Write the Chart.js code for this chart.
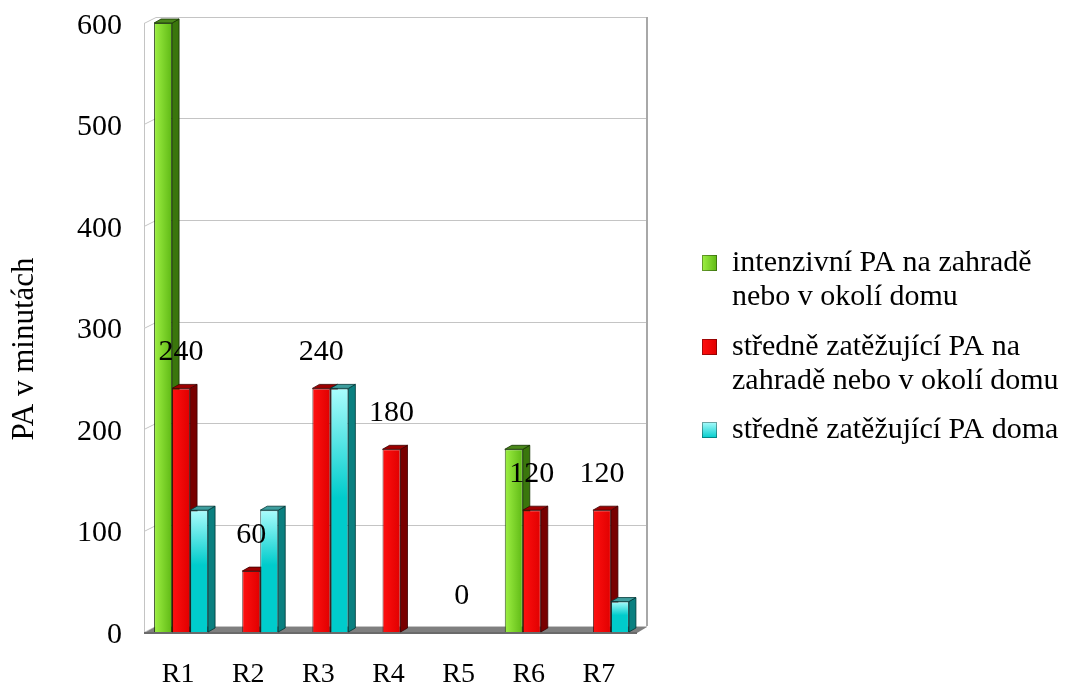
<!DOCTYPE html>
<html>
<head>
<meta charset="utf-8">
<script src="https://cdn.jsdelivr.net/npm/chart.js@4/dist/chart.umd.min.js"></script>
<style>
  html, body { margin: 0; padding: 0; background: #ffffff; }
  #wrap { width: 1066px; height: 688px; }
</style>
</head>
<body>
<div id="wrap"><canvas id="c" width="1066" height="688"></canvas></div>
<script>
// ---- data ----
const categories = ['R1', 'R2', 'R3', 'R4', 'R5', 'R6', 'R7'];
const intenzivniZahrada = [600, 0, 0, 0, 0, 180, 0];
const stredneZahrada = [240, 60, 240, 180, 0, 120, 120];
const stredneDoma = [120, 120, 240, 0, 0, 0, 30];
const seriesLabels = [
  ['intenzivní PA na zahradě', 'nebo v okolí domu'],
  ['středně zatěžující PA na', 'zahradě nebo v okolí domu'],
  ['středně zatěžující PA doma']
];
const yTickValues = [0, 100, 200, 300, 400, 500, 600];
const yTitle = 'PA v minutách';

// ---- styling ----
const FONT = "'Liberation Serif', 'Times New Roman', serif";
const CAT_PCT = 0.77;
const BAR_DX = 7, BAR_DY = -4;     // bar depth
const WALL_DX = 10, WALL_DY = -6;  // back wall offset
const palette = [
  { front: ['#9ef043', '#5fb915'], side: '#3a760c', top: '#4a881b', edge: 'rgba(20,50,0,0.8)' },
  { front: ['#ff1010', '#e00000'], side: '#780000', top: '#9c0000', edge: 'rgba(60,0,0,0.8)' },
  { front: ['#aafcfc', '#00cccc'], vertical: true, side: '#0a8080', top: '#3e9e9e', edge: 'rgba(0,55,55,0.8)' }
];

function frontGradient(c, ds, L, R, top, bot) {
  const pal = palette[ds];
  if (![L, R, top, bot].every(Number.isFinite)) return pal.front[1];
  let g;
  if (pal.vertical) g = c.createLinearGradient(0, top, 0, top + Math.max(1, (bot - top) * 0.45));
  else g = c.createLinearGradient(L, 0, Math.max(L + 1, R), 0);
  g.addColorStop(0, pal.front[0]);
  g.addColorStop(1, pal.front[1]);
  return g;
}

// per-bar front colour (scriptable, so every bar keeps its own options)
function frontFill(ctx) {
  const ds = ctx.datasetIndex;
  const chart = ctx.chart;
  const xs = chart.scales && chart.scales.x, ys = chart.scales && chart.scales.y;
  if (ctx.type !== 'data' || !xs || !ys) return palette[ds].front[1];
  const cat = (xs.right - xs.left) / categories.length;
  const bw = cat * CAT_PCT / 3;
  const L = xs.getPixelForValue(ctx.dataIndex) - 1.5 * bw + ds * bw;
  return frontGradient(chart.ctx, ds, L, L + bw, ys.getPixelForValue(ctx.raw), ys.getPixelForValue(0));
}

function poly(c, pts, fill, stroke) {
  c.beginPath();
  c.moveTo(pts[0][0], pts[0][1]);
  for (let i = 1; i < pts.length; i++) c.lineTo(pts[i][0], pts[i][1]);
  c.closePath();
  if (fill) { c.fillStyle = fill; c.fill(); }
  if (stroke) { c.strokeStyle = stroke; c.lineWidth = 1; c.stroke(); }
}

// walls, floor and the depth faces of each bar
const depthPlugin = {
  id: 'depth3d',
  beforeDatasetsDraw(chart) {
    const c = chart.ctx;
    const ys = chart.scales.y;
    const a = chart.chartArea;
    const fx = a.left - 2;
    const bx = a.left + WALL_DX, rx = a.right + WALL_DX;
    const yTop = ys.getPixelForValue(600), yBot = ys.getPixelForValue(0);
    c.save();
    // grid lines on the side and back walls
    c.strokeStyle = '#c4c4c4';
    c.lineWidth = 1;
    yTickValues.forEach(v => {
      const y = Math.round(ys.getPixelForValue(v)) + 0.5;
      c.beginPath();
      c.moveTo(fx, y);
      c.lineTo(bx, y + WALL_DY);
      c.lineTo(rx, y + WALL_DY);
      c.stroke();
    });
    // side wall front edge
    c.beginPath();
    c.moveTo(fx + 0.5, yTop);
    c.lineTo(fx + 0.5, yBot);
    c.stroke();
    // back wall right edge
    c.strokeStyle = '#a8a8a8';
    c.lineWidth = 2;
    c.beginPath();
    c.moveTo(rx, yTop + WALL_DY);
    c.lineTo(rx, yBot + WALL_DY);
    c.stroke();
    // floor
    poly(c, [[fx, yBot + 1], [a.right, yBot + 1], [rx, yBot + WALL_DY + 1], [bx - 1, yBot + WALL_DY + 1]], '#7f7f7f', null);
    c.fillStyle = '#6a6a6a';
    c.fillRect(fx, yBot, a.right - fx, 2);

    // bar sides, then bar tops; front faces get their gradient here
    const metas = chart.data.datasets.map((d, i) => chart.getDatasetMeta(i));
    const pass = (which) => {
      metas.forEach((meta, ds) => {
        meta.data.forEach((el, i) => {
          const raw = chart.data.datasets[ds].data[i];
          const p = el.getProps(['x', 'y', 'base', 'width'], true);
          const L = p.x - p.width / 2, R = p.x + p.width / 2;
          const pal = palette[ds];
          if (which === 'front') {
            el.options = Object.assign({}, el.options, { backgroundColor: frontGradient(c, ds, L, R, p.y, p.base) });
            return;
          }
          if (!raw) return;
          if (which === 'side') {
            poly(c, [[R, p.y], [R + BAR_DX, p.y + BAR_DY], [R + BAR_DX, p.base + BAR_DY], [R, p.base]], pal.side, pal.edge);
          } else {
            poly(c, [[L, p.y], [L + BAR_DX, p.y + BAR_DY], [R + BAR_DX, p.y + BAR_DY], [R, p.y]], pal.top, pal.edge);
          }
        });
      });
    };
    pass('side');
    pass('top');
    pass('front');
    c.restore();
  },
  afterDatasetsDraw(chart) {
    // value labels of the middle series
    const c = chart.ctx;
    const meta = chart.getDatasetMeta(1);
    c.save();
    c.font = '30px ' + FONT;
    c.fillStyle = '#000';
    c.textAlign = 'center';
    c.textBaseline = 'middle';
    meta.data.forEach((el, i) => {
      const p = el.getProps(['x', 'y'], true);
      c.fillText(String(stredneZahrada[i]), p.x, p.y - 36);
    });
    c.restore();
  },
  afterDraw(chart) {
    const c = chart.ctx;
    c.save();
    // axis title
    c.font = '31px ' + FONT;
    c.fillStyle = '#000';
    c.textAlign = 'center';
    c.textBaseline = 'middle';
    c.translate(25, 349);
    c.rotate(-Math.PI / 2);
    c.fillText(yTitle, 0, 0);
    c.restore();

    // legend
    c.save();
    c.font = '30px ' + FONT;
    c.textAlign = 'left';
    c.textBaseline = 'middle';
    const firstLine = [263, 347, 430];
    const lineH = 34;
    seriesLabels.forEach((lines, k) => {
      const y0 = firstLine[k];
      const pal = palette[k];
      const sx = 702, sy = y0 - 8, sw = 15, sh = 16;
      let g;
      if (pal.vertical) g = c.createLinearGradient(0, sy, 0, sy + sh);
      else g = c.createLinearGradient(sx, 0, sx + sw, 0);
      g.addColorStop(0, pal.front[0]);
      g.addColorStop(1, pal.front[1]);
      c.fillStyle = g;
      c.fillRect(sx, sy, sw, sh);
      c.strokeStyle = 'rgba(0,0,0,0.35)';
      c.lineWidth = 1;
      c.strokeRect(sx + 0.5, sy + 0.5, sw - 1, sh - 1);
      c.fillStyle = '#000';
      lines.forEach((t, j) => c.fillText(t, 732, y0 + j * lineH));
    });
    c.restore();
  }
};

const seriesData = [intenzivniZahrada, stredneZahrada, stredneDoma];

new Chart(document.getElementById('c'), {
  type: 'bar',
  data: {
    labels: categories,
    datasets: seriesData.map((d, k) => ({
      label: seriesLabels[k].join(' '),
      data: d,
      backgroundColor: frontFill,
      borderColor: palette[k].edge,
      borderWidth: 1,
      categoryPercentage: CAT_PCT,
      barPercentage: 1
    }))
  },
  options: {
    responsive: false,
    animation: false,
    devicePixelRatio: 1,
    layout: { padding: { top: 23, right: 429, bottom: 0, left: 0 } },
    plugins: { legend: { display: false }, tooltip: { enabled: false } },
    scales: {
      x: {
        grid: { display: false, drawTicks: false },
        border: { display: false },
        ticks: { font: { family: FONT, size: 28 }, color: '#000', padding: 26, labelOffset: -3 },
        afterFit: s => { s.height = 56; s.paddingLeft = 0; s.paddingRight = 0; }
      },
      y: {
        min: 0, max: 600,
        grid: { display: false, drawTicks: false },
        border: { display: false },
        ticks: { stepSize: 100, font: { family: FONT, size: 30 }, color: '#000', padding: 24, labelOffset: 3 },
        afterFit: s => { s.width = 146; s.paddingTop = 0; s.paddingBottom = 0; }
      }
    }
  },
  plugins: [depthPlugin]
});
</script>
</body>
</html>
